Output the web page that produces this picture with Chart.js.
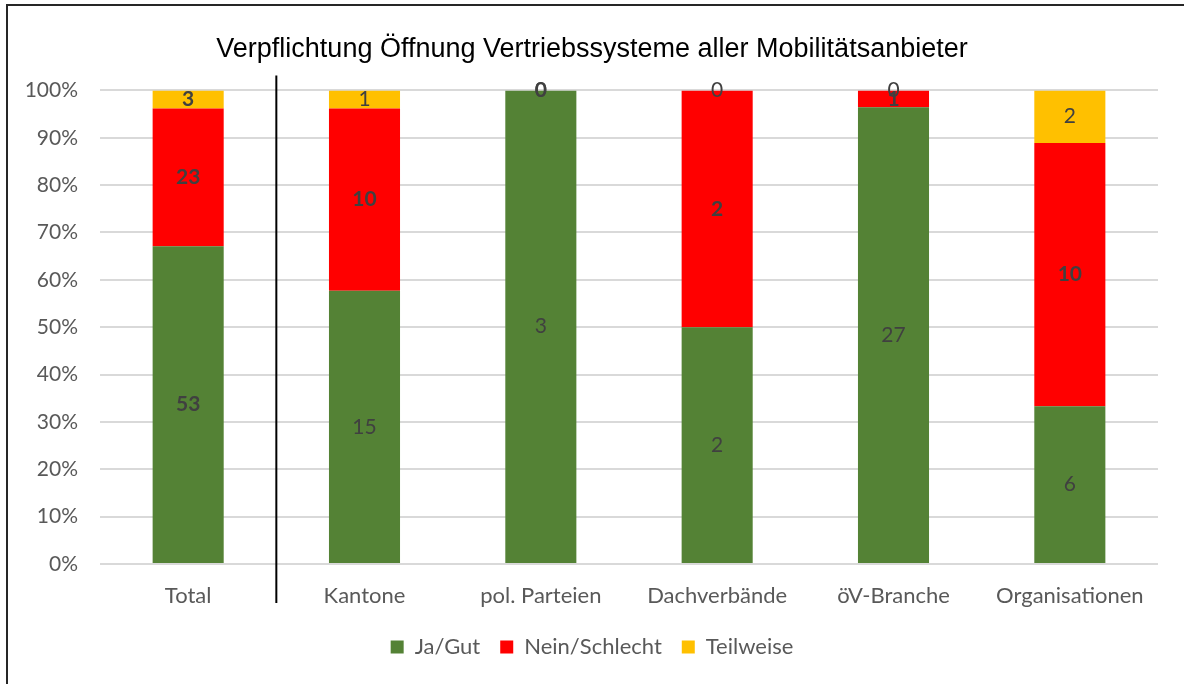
<!DOCTYPE html>
<html>
<head>
<meta charset="utf-8">
<script src="https://cdn.jsdelivr.net/npm/chart.js@4"></script>
<style>
  body { margin: 0; background: #fff; }
  #wrap { position: relative; width: 1184px; height: 684px; overflow: hidden; }
  #frame { position: absolute; left: 6px; top: 4px; width: 1300px; height: 800px;
           border-left: 2px solid #262626; border-top: 2px solid #262626; }
  canvas { position: absolute; left: 0; top: 0; }
</style>
</head>
<body>
<div id="wrap">
  <div id="frame"></div>
  <canvas id="chart" width="1184" height="684"></canvas>
</div>
<script>
var categories = ["Total", "Kantone", "pol. Parteien", "Dachverbände", "öV-Branche", "Organisationen"];
var jaGut = [53, 15, 3, 2, 27, 6];
var neinSchlecht = [23, 10, 0, 2, 1, 10];
var teilweise = [3, 1, 0, 0, 0, 2];
var yTicks = [0, 10, 20, 30, 40, 50, 60, 70, 80, 90, 100];

var LABEL_FONT = "Lato, 'Open Sans', sans-serif";

// share of each answer per category, so that every bar reaches 100%
function percent(values) {
  return values.map(function(v, i) {
    var total = jaGut[i] + neinSchlecht[i] + teilweise[i];
    return total ? v / total * 100 : 0;
  });
}

var seriesCounts = [jaGut, neinSchlecht, teilweise];

// draws the answer counts in the middle of each segment
var valueLabels = {
  id: "valueLabels",
  afterDatasetsDraw: function(chart) {
    var ctx = chart.ctx;
    ctx.save();
    ctx.textAlign = "center";
    ctx.textBaseline = "middle";
    ctx.fillStyle = "#404040";
    chart.data.datasets.forEach(function(ds, d) {
      var meta = chart.getDatasetMeta(d);
      meta.data.forEach(function(bar, i) {
        var bold = d === 1 || i === 0;
        ctx.font = (bold ? "bold " : "") + "21px " + LABEL_FONT;
        var y = (bar.y + bar.base) / 2;
        ctx.fillText(String(seriesCounts[d][i]), bar.x, y);
      });
    });
    ctx.restore();
  }
};

// black divider between "Total" and the groups
var divider = {
  id: "divider",
  afterDraw: function(chart) {
    var x = chart.scales.x;
    var area = chart.chartArea;
    var px = (x.getPixelForTick(0) + x.getPixelForTick(1)) / 2;
    var ctx = chart.ctx;
    ctx.save();
    ctx.strokeStyle = "#000";
    ctx.lineWidth = 2;
    ctx.beginPath();
    ctx.moveTo(px, area.top - 15);
    ctx.lineTo(px, area.bottom + 39);
    ctx.stroke();
    ctx.restore();
  }
};

var ctx = document.getElementById("chart").getContext("2d");
var chart = new Chart(ctx, {
  type: "bar",
  data: {
    labels: categories,
    datasets: [
      { label: "Ja/Gut", data: percent(jaGut), backgroundColor: "#548235" },
      { label: "Nein/Schlecht", data: percent(neinSchlecht), backgroundColor: "#FF0000" },
      { label: "Teilweise", data: percent(teilweise), backgroundColor: "#FFC000" }
    ]
  },
  options: {
    responsive: false,
    animation: false,
    layout: { padding: { left: 26, right: 26, top: 0, bottom: 16 } },
    datasets: {
      bar: { categoryPercentage: 1, barPercentage: 0.403 }
    },
    scales: {
      x: {
        stacked: true,
        grid: { display: false, drawTicks: false },
        border: { display: false },
        ticks: { color: "#595959", padding: 19, font: { family: LABEL_FONT, size: 22 } },
        afterFit: function(s) { s.height = 52; }
      },
      y: {
        stacked: true,
        min: 0,
        max: 100,
        afterBuildTicks: function(s) {
          s.ticks = yTicks.map(function(v) { return { value: v }; });
        },
        grid: { color: "#d9d9d9", lineWidth: 2, drawTicks: false },
        border: { display: false },
        ticks: {
          color: "#595959",
          padding: 22,
          font: { family: LABEL_FONT, size: 21 },
          callback: function(v) { return v + "%"; }
        },
        afterFit: function(s) { s.width = 74; }
      }
    },
    plugins: {
      title: {
        display: true,
        text: "Verpflichtung Öffnung Vertriebssysteme aller Mobilitätsanbieter",
        color: "#000",
        font: { family: "'Liberation Sans', Arial, sans-serif", size: 27, weight: "normal" },
        padding: { top: 33, bottom: 25 }
      },
      legend: {
        position: "bottom",
        labels: {
          color: "#595959",
          boxWidth: 13,
          boxHeight: 13,
          padding: 20,
          font: { family: LABEL_FONT, size: 22 }
        }
      },
      tooltip: { enabled: false }
    }
  },
  plugins: [valueLabels, divider]
});
</script>
</body>
</html>
